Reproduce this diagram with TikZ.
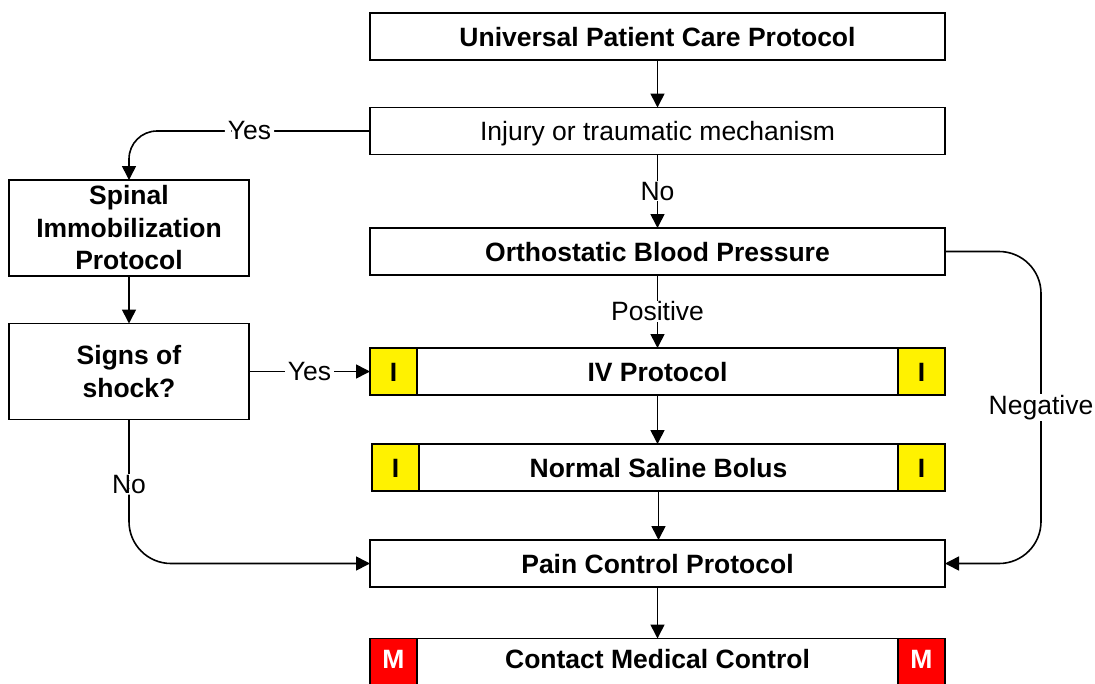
\documentclass[tikz,border=0pt]{standalone}
\usepackage{fontspec}
\setmainfont{Liberation Sans}
\usetikzlibrary{arrows.meta}
\begin{document}
\begin{tikzpicture}[x=1pt,y=-1pt,
  every node/.style={outer sep=0pt},
  box/.style={draw,line width=1.8pt,fill=white,minimum width=575pt,minimum height=47pt,inner sep=0pt,text height=19pt,text depth=0pt,font=\fontsize{26.5}{32}\selectfont\bfseries},
  plainbox/.style={box,font=\fontsize{26.5}{32}\selectfont},
  sbox/.style={draw,line width=1.8pt,fill=white,minimum width=240pt,minimum height=96pt,inner sep=0pt,align=center,font=\fontsize{26.5}{32.5}\selectfont\bfseries},
  itag/.style={draw,line width=1.8pt,fill=yellow,minimum width=47pt,minimum height=47pt,inner sep=0pt,text height=19pt,text depth=0pt,font=\fontsize{26.5}{32}\selectfont\bfseries},
  mtag/.style={itag,fill=red,text=white,text depth=6pt},
  conn/.style={line width=1.6pt,-{Triangle[length=14pt,width=14pt]}},
  lbl/.style={fill=white,inner xsep=3pt,inner ysep=1pt,font=\fontsize{26.5}{32}\selectfont}]
\useasboundingbox (0,0) rectangle (1095,683);
\clip (0,0) rectangle (1095,683);
% main column
\node[box] (upc) at (657.5,36.5) {Universal Patient Care Protocol};
\node[plainbox] (inj) at (657.5,131) {Injury or traumatic mechanism};
\node[box] (obp) at (657.5,251.5) {Orthostatic Blood Pressure};
\node[box] (iv) at (657.5,371.5) {IV Protocol};
\node[box,minimum width=573pt] (nsb) at (658.5,467.5) {Normal Saline Bolus};
\node[box] (pcp) at (657.5,563.5) {Pain Control Protocol};
\node[box,text depth=6pt] (cmc) at (657.5,662) {Contact Medical Control};
% tags
\node[itag,anchor=west] (ivl) at (iv.west) {I};
\node[itag,anchor=east] (ivr) at (iv.east) {I};
\node[itag,anchor=west] (nsbl) at (nsb.west) {I};
\node[itag,anchor=east] (nsbr) at (nsb.east) {I};
\node[mtag,anchor=west] (cmcl) at (cmc.west) {M};
\node[mtag,anchor=east] (cmcr) at (cmc.east) {M};
% side column
\node[sbox] (spi) at (129,228) {Spinal\\Immobilization\\Protocol};
\node[sbox] (sos) at (129,371.5) {Signs of\\shock?};
% connectors
\draw[conn] (upc) -- (inj);
\draw[conn] (inj) -- node[lbl]{No} (obp);
\draw[conn] (obp) -- node[lbl]{Positive} (iv);
\draw[conn] (iv) -- (iv.south |- nsb.north);
\draw[conn] (nsb.south) -- (nsb.south |- pcp.north);
\draw[conn] (pcp) -- (cmc);
\draw[conn] (spi) -- (sos);
\draw[conn,rounded corners=28pt] (inj.west) -- node[lbl]{Yes} (spi.north |- inj.west) -- (spi.north);
\draw[conn] (sos.east) -- node[lbl]{Yes} (ivl.west);
\draw[conn,rounded corners=42pt] (sos.south) -- node[lbl,pos=0.45]{No} (sos.south |- pcp.west) -- (pcp.west);
\coordinate (rt) at (1041,251.5);
\coordinate (rb) at (1041,563.5);
\draw[conn,rounded corners=42pt] (obp.east) -- (rt) -- node[lbl]{Negative} (rb) -- (pcp.east);
\end{tikzpicture}
\end{document}
